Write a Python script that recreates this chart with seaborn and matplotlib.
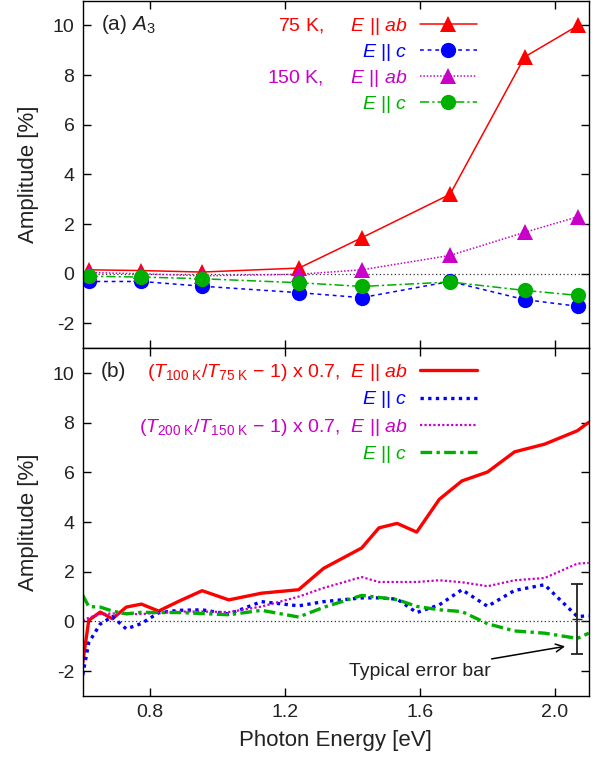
import matplotlib
matplotlib.use("Agg")
import matplotlib.pyplot as plt
import seaborn as sns
import numpy as np

# ---------------- data ----------------
# panel (a): A3 amplitude
E_top = [0.618, 0.774, 0.954, 1.241, 1.427, 1.689, 1.910, 2.069]
a_75K_ab = [0.16, 0.13, 0.07, 0.23, 1.45, 3.2, 8.73, 10.0]
a_75K_c = [-0.31, -0.31, -0.5, -0.76, -0.96, -0.31, -1.04, -1.31]
a_150K_ab = [0.05, 0.0, -0.08, -0.02, 0.16, 0.74, 1.67, 2.3]
a_150K_c = [-0.1, -0.13, -0.2, -0.36, -0.51, -0.33, -0.67, -0.87]

# panel (b): scaled transmission ratios
E_bot = [0.600, 0.618, 0.652, 0.688, 0.729, 0.774, 0.825, 0.884, 0.954, 1.033,
         1.130, 1.240, 1.314, 1.427, 1.478, 1.532, 1.590, 1.657, 1.724, 1.800,
         1.880, 1.969, 2.066, 2.100]
b_100_75_ab = [-1.66, 0.05, 0.38, 0.11, 0.58, 0.70, 0.42, 0.81, 1.24, 0.87,
               1.14, 1.28, 2.14, 2.96, 3.77, 3.95, 3.60, 4.92, 5.66, 6.02,
               6.83, 7.14, 7.68, 8.02]
b_100_75_c = [-2.16, -0.85, -0.10, 0.20, -0.30, -0.08, 0.35, 0.45, 0.47, 0.30,
              0.80, 0.63, 0.80, 0.95, 0.95, 0.90, 0.36, 0.67, 1.28, 0.61,
              1.25, 1.48, 0.20, 0.23]
b_200_150_ab = [0.04, 0.15, 0.30, 0.32, 0.30, 0.30, 0.35, 0.40, 0.40, 0.38,
                0.60, 1.00, 1.35, 1.79, 1.59, 1.59, 1.59, 1.66, 1.58, 1.42,
                1.66, 1.75, 2.33, 2.36]
b_200_150_c = [1.06, 0.60, 0.58, 0.42, 0.31, 0.37, 0.36, 0.36, 0.32, 0.27,
               0.45, 0.18, 0.57, 1.05, 0.97, 0.88, 0.61, 0.47, 0.40, -0.09,
               -0.38, -0.47, -0.68, -0.47]

# typical error bar
err_x = 2.066
err_y = 0.1
err_half = 1.4

x_ticks = [0.8, 1.2, 1.6, 2.0]
x_ticklabels = ["0.8", "1.2", "1.6", "2.0"]
y_ticks = [-2, 0, 2, 4, 6, 8, 10]

# ---------------- style ----------------
sns.set_theme(style="ticks")
plt.rcParams["font.family"] = ["Liberation Sans", "DejaVu Sans"]
plt.rcParams.update({
    "mathtext.fontset": "custom",
    "mathtext.rm": "Liberation Sans",
    "mathtext.it": "Liberation Sans:italic",
    "mathtext.bf": "Liberation Sans:bold",
    "axes.unicode_minus": False,
    "axes.edgecolor": "black",
    "axes.linewidth": 1.0,
    "text.color": "#222222",
    "axes.labelcolor": "#222222",
    "xtick.color": "black",
    "ytick.color": "black",
    "xtick.labelcolor": "#222222",
    "ytick.labelcolor": "#222222",
})

RED = "#ff0000"
BLUE = "#0000ff"
MAG = "#c800c8"
GREEN = "#00b000"

fig = plt.figure(figsize=(6.02, 7.64), dpi=100)
ax1 = fig.add_axes([0.1374, 0.5441, 0.8406, 0.4552])
ax2 = fig.add_axes([0.1374, 0.0890, 0.8406, 0.4551])

def style_axes(ax, show_xlabels):
    ax.set_xlim(0.6, 2.1)
    ax.set_ylim(-3, 11)
    ax.set_xticks(x_ticks)
    ax.set_yticks(y_ticks)
    ax.tick_params(direction="in", top=True, right=True, length=6, width=1,
                   labelsize=14, pad=6)
    if show_xlabels:
        ax.set_xticklabels(x_ticklabels)
    else:
        ax.set_xticklabels([])
    ax.set_ylabel("Amplitude [%]", fontsize=16, labelpad=10)
    ax.axhline(0, color="#333333", lw=0.9, ls=(0, (1, 2)), zorder=1)

def right_align_legend(leg):
    for col in leg._legend_handle_box.get_children():
        col.align = "right"

# ---------------- panel (a) ----------------
mk = dict(markeredgewidth=0)
sns.lineplot(x=E_top, y=a_75K_ab, ax=ax1, color=RED, lw=1.1, marker="^",
             markersize=11, markeredgecolor=RED, **mk, errorbar=None,
             label=r"75 K,     $\mathit{E\ ||\ ab}$")
sns.lineplot(x=E_top, y=a_75K_c, ax=ax1, color=BLUE, lw=1.1, ls=(0, (2.5, 2.5)),
             marker="o", markersize=11, markeredgecolor=BLUE, **mk, errorbar=None,
             label=r"$\mathit{E\ ||\ c}$")
sns.lineplot(x=E_top, y=a_150K_ab, ax=ax1, color=MAG, lw=1.1, ls=(0, (1, 1.2)),
             marker="^", markersize=11, markeredgecolor=MAG, **mk, errorbar=None,
             label=r"150 K,     $\mathit{E\ ||\ ab}$")
sns.lineplot(x=E_top, y=a_150K_c, ax=ax1, color=GREEN, lw=1.1, ls=(0, (6, 2, 1.5, 2)),
             marker="o", markersize=11, markeredgecolor=GREEN, **mk, errorbar=None,
             label=r"$\mathit{E\ ||\ c}$")
style_axes(ax1, False)
leg1 = ax1.legend(loc="upper right", bbox_to_anchor=(0.779, 0.955), frameon=False,
                  markerfirst=False, fontsize=14, handlelength=2.95,
                  handletextpad=0.6, labelspacing=0.25, borderpad=0,
                  borderaxespad=0, labelcolor="linecolor", numpoints=1)
right_align_legend(leg1)
ax1.text(0.036, 0.932, r"(a) $\mathit{A}_3$", transform=ax1.transAxes,
         fontsize=15, ha="left", va="center")

# ---------------- panel (b) ----------------
sns.lineplot(x=E_bot, y=b_100_75_ab, ax=ax2, color=RED, lw=2.4, errorbar=None,
             sort=False,
             label=r"($\mathit{T}_{\mathrm{100\ K}}$/$\mathit{T}_{\mathrm{75\ K}}$ − 1) x 0.7,  $\mathit{E\ ||\ ab}$")
sns.lineplot(x=E_bot, y=b_100_75_c, ax=ax2, color=BLUE, lw=2.4, ls=(0, (1, 1.3)),
             errorbar=None, sort=False, label=r"$\mathit{E\ ||\ c}$")
sns.lineplot(x=E_bot, y=b_200_150_ab, ax=ax2, color=MAG, lw=1.6, ls=(0, (1, 1)),
             errorbar=None, sort=False,
             label=r"($\mathit{T}_{\mathrm{200\ K}}$/$\mathit{T}_{\mathrm{150\ K}}$ − 1) x 0.7,  $\mathit{E\ ||\ ab}$")
sns.lineplot(x=E_bot, y=b_200_150_c, ax=ax2, color=GREEN, lw=2.4, ls=(0, (3.5, 1.3, 1, 1.3)),
             errorbar=None, sort=False, label=r"$\mathit{E\ ||\ c}$")
style_axes(ax2, True)
ax2.set_xlabel("Photon Energy [eV]", fontsize=16, labelpad=6)
leg2 = ax2.legend(loc="upper right", bbox_to_anchor=(0.779, 0.96), frameon=False,
                  markerfirst=False, fontsize=14, handlelength=2.95,
                  handletextpad=0.6, labelspacing=0.32, borderpad=0,
                  borderaxespad=0, labelcolor="linecolor")
right_align_legend(leg2)
ax2.text(0.036, 0.932, "(b)", transform=ax2.transAxes, fontsize=15,
         ha="left", va="center")

ax2.errorbar([err_x], [err_y], yerr=[err_half], fmt="_", color="#222222",
             ms=7, capsize=4, elinewidth=1.3, capthick=1.3, zorder=5)
ax2.annotate("Typical error bar", xy=(2.03, -1.0), xytext=(1.81, -2.0),
             fontsize=14, ha="right", va="center", color="#222222",
             arrowprops=dict(arrowstyle="->", color="black", lw=1.1,
                             shrinkA=2, shrinkB=0))

fig.savefig("out.png", dpi=100)
